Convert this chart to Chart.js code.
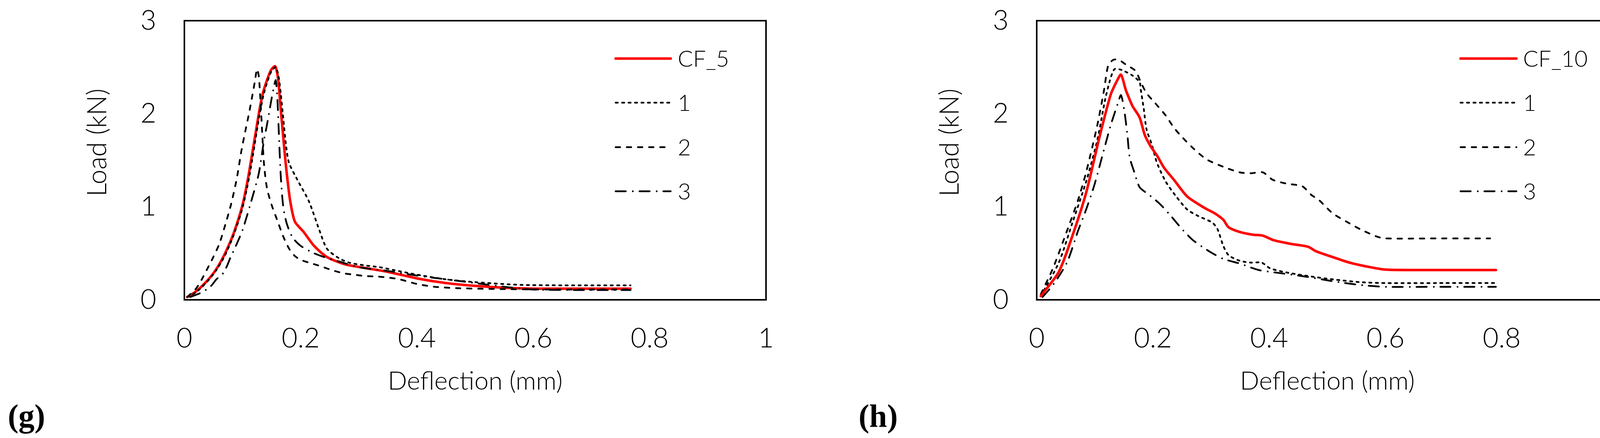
<!DOCTYPE html>
<html>
<head>
<meta charset="utf-8">
<script src="https://cdn.jsdelivr.net/npm/chart.js@4.4.1/dist/chart.umd.min.js"></script>
<style>
  html, body { margin: 0; padding: 0; background: #fff; }
  #wrap { position: relative; width: 4182px; height: 1122px; }
  canvas { position: absolute; top: 0; }
</style>
</head>
<body>
<div id="wrap">
  <canvas id="chartG" width="2091" height="1122" style="left:0"></canvas>
  <canvas id="chartH" width="2091" height="1122" style="left:2091px"></canvas>
</div>
<script>
// --- DATA ---
const X_TICKS = [0, 0.2, 0.4, 0.6, 0.8, 1];
const Y_TICKS = [0, 1, 2, 3];
const X_TITLE = "Deflection (mm)";
const Y_TITLE = "Load (kN)";
const LABELS_G = ["CF_5", "1", "2", "3"];
const LABELS_H = ["CF_10", "1", "2", "3"];

// (g) CF_5 average and specimens 1-3
const gCF5X = [0.005, 0.02, 0.04, 0.055, 0.07, 0.085, 0.1, 0.111, 0.128, 0.135, 0.142, 0.149, 0.156, 0.161, 0.165, 0.169, 0.172, 0.176, 0.182, 0.19, 0.205, 0.223, 0.245, 0.277, 0.313, 0.35, 0.4, 0.45, 0.5, 0.55, 0.6, 0.7, 0.767];
const gCF5Y = [0.03, 0.09, 0.21, 0.33, 0.5, 0.72, 1.02, 1.36, 2.0, 2.22, 2.36, 2.47, 2.51, 2.38, 2.1, 1.82, 1.61, 1.36, 1.06, 0.84, 0.73, 0.58, 0.46, 0.38, 0.34, 0.3, 0.23, 0.18, 0.15, 0.13, 0.12, 0.12, 0.12];
const g1X = [0.005, 0.02, 0.04, 0.055, 0.07, 0.085, 0.1, 0.112, 0.129, 0.136, 0.143, 0.15, 0.157, 0.162, 0.166, 0.17, 0.175, 0.18, 0.196, 0.214, 0.232, 0.245, 0.265, 0.283, 0.31, 0.336, 0.36, 0.4, 0.45, 0.5, 0.58, 0.7, 0.767];
const g1Y = [0.03, 0.08, 0.2, 0.32, 0.48, 0.7, 0.99, 1.34, 1.98, 2.2, 2.35, 2.46, 2.5, 2.4, 2.2, 1.95, 1.65, 1.47, 1.27, 1.06, 0.75, 0.55, 0.45, 0.4, 0.37, 0.35, 0.32, 0.27, 0.22, 0.19, 0.16, 0.155, 0.155];
const g2X = [0.005, 0.02, 0.03, 0.04, 0.049, 0.06, 0.07, 0.08, 0.09, 0.098, 0.105, 0.111, 0.117, 0.121, 0.125, 0.128, 0.131, 0.134, 0.137, 0.142, 0.15, 0.16, 0.17, 0.18, 0.19, 0.2, 0.214, 0.235, 0.253, 0.274, 0.292, 0.31, 0.331, 0.349, 0.37, 0.4, 0.43, 0.47, 0.55, 0.65, 0.767];
const g2Y = [0.03, 0.12, 0.22, 0.34, 0.45, 0.6, 0.8, 1.02, 1.3, 1.6, 1.82, 2.0, 2.2, 2.34, 2.48, 2.4, 2.12, 1.77, 1.45, 1.2, 1.02, 0.85, 0.68, 0.55, 0.47, 0.43, 0.4, 0.36, 0.32, 0.285, 0.27, 0.256, 0.25, 0.24, 0.22, 0.17, 0.14, 0.125, 0.115, 0.11, 0.11];
const g3X = [0.01, 0.03, 0.046, 0.055, 0.066, 0.073, 0.079, 0.09, 0.1, 0.115, 0.128, 0.137, 0.142, 0.149, 0.153, 0.157, 0.16, 0.163, 0.166, 0.17, 0.176, 0.186, 0.2, 0.223, 0.245, 0.267, 0.3, 0.35, 0.4, 0.45, 0.5, 0.55, 0.6, 0.7, 0.767];
const g3Y = [0.03, 0.08, 0.15, 0.22, 0.28, 0.36, 0.45, 0.6, 0.75, 1.06, 1.36, 1.72, 1.88, 2.13, 2.26, 2.36, 2.15, 1.7, 1.3, 1.0, 0.82, 0.67, 0.58, 0.5, 0.45, 0.41, 0.35, 0.31, 0.26, 0.22, 0.18, 0.14, 0.11, 0.105, 0.105];

// (h) CF_10 average and specimens 1-3
const hCF10X = [0.007, 0.038, 0.061, 0.085, 0.108, 0.127, 0.137, 0.145, 0.153, 0.158, 0.165, 0.177, 0.186, 0.196, 0.207, 0.219, 0.236, 0.259, 0.288, 0.306, 0.321, 0.33, 0.349, 0.372, 0.389, 0.408, 0.438, 0.467, 0.481, 0.509, 0.538, 0.566, 0.599, 0.65, 0.72, 0.79];
const hCF10Y = [0.04, 0.3, 0.68, 1.15, 1.75, 2.2, 2.34, 2.42, 2.26, 2.18, 2.08, 1.96, 1.77, 1.65, 1.55, 1.42, 1.29, 1.11, 0.99, 0.93, 0.86, 0.78, 0.73, 0.7, 0.69, 0.64, 0.6, 0.57, 0.52, 0.46, 0.4, 0.36, 0.325, 0.32, 0.32, 0.32];
const h1X = [0.007, 0.038, 0.061, 0.085, 0.104, 0.118, 0.127, 0.134, 0.146, 0.165, 0.177, 0.179, 0.184, 0.189, 0.198, 0.207, 0.222, 0.24, 0.259, 0.278, 0.302, 0.311, 0.321, 0.33, 0.349, 0.368, 0.387, 0.401, 0.425, 0.462, 0.509, 0.556, 0.599, 0.7, 0.79];
const h1Y = [0.04, 0.4, 0.82, 1.27, 1.71, 2.16, 2.38, 2.48, 2.47, 2.41, 2.34, 2.26, 2.06, 1.83, 1.67, 1.47, 1.27, 1.11, 0.97, 0.9, 0.83, 0.76, 0.58, 0.48, 0.42, 0.4, 0.4, 0.34, 0.3, 0.26, 0.22, 0.19, 0.18, 0.18, 0.18];
const h2X = [0.007, 0.028, 0.052, 0.071, 0.085, 0.104, 0.116, 0.123, 0.132, 0.141, 0.153, 0.17, 0.179, 0.189, 0.203, 0.222, 0.236, 0.25, 0.269, 0.292, 0.321, 0.349, 0.368, 0.389, 0.406, 0.429, 0.457, 0.472, 0.486, 0.509, 0.533, 0.556, 0.585, 0.599, 0.7, 0.78];
const h2Y = [0.06, 0.34, 0.74, 1.07, 1.37, 1.87, 2.26, 2.52, 2.58, 2.58, 2.53, 2.46, 2.34, 2.22, 2.12, 1.98, 1.85, 1.75, 1.63, 1.51, 1.43, 1.37, 1.36, 1.37, 1.29, 1.25, 1.22, 1.13, 1.07, 0.93, 0.84, 0.76, 0.68, 0.66, 0.66, 0.66];
const h3X = [0.01, 0.028, 0.052, 0.071, 0.085, 0.099, 0.113, 0.127, 0.139, 0.145, 0.151, 0.156, 0.16, 0.168, 0.177, 0.193, 0.212, 0.231, 0.25, 0.269, 0.297, 0.321, 0.349, 0.382, 0.415, 0.462, 0.509, 0.556, 0.599, 0.7, 0.79];
const h3Y = [0.03, 0.16, 0.4, 0.74, 0.97, 1.23, 1.55, 1.87, 2.1, 2.2, 2.02, 1.77, 1.53, 1.37, 1.21, 1.13, 1.03, 0.9, 0.76, 0.64, 0.52, 0.44, 0.39, 0.32, 0.29, 0.25, 0.2, 0.16, 0.14, 0.14, 0.14];

// --- STYLE ---
const FONT = "Lato, 'Open Sans', sans-serif";
const LINE_STYLES = [
  { color: "#ff0000", width: 6.5, dash: [] },
  { color: "#000000", width: 4.5, dash: [5.5, 11] },
  { color: "#000000", width: 4.5, dash: [11.5, 17] },
  { color: "#000000", width: 4.5, dash: [26, 18, 0.1, 17] },
];

function toPoints(xs, ys) {
  return xs.map((x, i) => ({ x, y: ys[i] }));
}

// box round the plot area
const framePlugin = {
  id: "frame",
  afterDatasetsDraw(chart) {
    const { ctx, chartArea: a } = chart;
    ctx.save();
    ctx.strokeStyle = "#000";
    ctx.lineWidth = 4;
    ctx.strokeRect(a.left, a.top, a.right - a.left, a.bottom - a.top);
    ctx.restore();
  },
};

// legend, y title and panel letter
const panelTextPlugin = {
  id: "panelText",
  afterDraw(chart, args, opts) {
    const { ctx, chartArea: a } = chart;
    ctx.save();
    opts.labels.forEach((label, i) => {
      const st = LINE_STYLES[i];
      const y = opts.rowsY[i];
      ctx.beginPath();
      ctx.strokeStyle = st.color;
      ctx.lineWidth = st.width;
      ctx.lineCap = "round";
      ctx.setLineDash(st.dash);
      ctx.moveTo(opts.lineX1, y);
      ctx.lineTo(opts.lineX2, y);
      ctx.stroke();
      ctx.setLineDash([]);
      ctx.fillStyle = "#000";
      ctx.font = "300 58px " + FONT;
      ctx.textAlign = "left";
      ctx.textBaseline = "alphabetic";
      ctx.fillText(label, opts.textX, y + 21);
    });

    ctx.translate(a.left - 200, 365);
    ctx.rotate(-Math.PI / 2);
    ctx.font = "300 68px " + FONT;
    ctx.textAlign = "center";
    ctx.textBaseline = "alphabetic";
    ctx.fillStyle = "#000";
    ctx.fillText(Y_TITLE, 0, 0);
    ctx.setTransform(1, 0, 0, 1, 0, 0);

    ctx.font = "bold 82px 'Liberation Serif', 'Times New Roman', serif";
    ctx.textAlign = "left";
    ctx.fillText(opts.letter, opts.letterX, 1093);
    ctx.restore();
  },
};

function renderPanel(canvasId, labels, series, cfg) {
  const datasets = series.map((s, i) => ({
    label: labels[i],
    data: toPoints(s[0], s[1]),
    borderColor: LINE_STYLES[i].color,
    borderWidth: LINE_STYLES[i].width,
    borderDash: LINE_STYLES[i].dash,
    borderCapStyle: "round",
    borderJoinStyle: "round",
    pointRadius: 0,
    tension: 0.25,
    fill: false,
    order: i === 0 ? cfg.redOrder : 0,
  }));

  const tickFont = { family: FONT, size: 70, weight: "300" };
  const ctx = document.getElementById(canvasId).getContext("2d");
  return new Chart(ctx, {
    type: "line",
    data: { datasets },
    options: {
      responsive: false,
      animation: false,
      devicePixelRatio: 1,
      layout: { padding: { left: 0, top: 53, right: cfg.padRight, bottom: 0 } },
      plugins: {
        legend: { display: false },
        tooltip: { enabled: false },
        panelText: {
          labels,
          rowsY: [150, 263, 377, 490],
          lineX1: cfg.lineX1,
          lineX2: cfg.lineX2,
          textX: cfg.textX,
          letter: cfg.letter,
          letterX: cfg.letterX,
        },
      },
      scales: {
        x: {
          type: "linear",
          min: 0,
          max: 1,
          afterBuildTicks: (s) => { s.ticks = X_TICKS.map((v) => ({ value: v })); },
          afterFit: (s) => {
            s.height = 354;
            s.paddingLeft = 0;
            s.paddingRight = 0;
          },
          grid: { display: false, drawTicks: false },
          border: { display: false },
          ticks: {
            padding: 57,
            color: "#000",
            font: tickFont,
            maxRotation: 0,
            autoSkip: false,
            callback: (v) => String(+v.toFixed(1)),
          },
          title: {
            display: true,
            text: X_TITLE,
            color: "#000",
            font: { family: FONT, size: 65, weight: "300" },
            padding: { top: 0, bottom: 106 },
          },
        },
        y: {
          type: "linear",
          min: 0,
          max: 3,
          afterBuildTicks: (s) => { s.ticks = Y_TICKS.map((v) => ({ value: v })); },
          afterFit: (s) => {
            s.width = cfg.yWidth;
            s.paddingTop = 0;
            s.paddingBottom = 0;
          },
          grid: { display: false, drawTicks: false },
          border: { display: false },
          ticks: {
            padding: 72,
            color: "#000",
            font: tickFont,
            callback: (v) => String(v),
          },
        },
      },
    },
    plugins: [framePlugin, panelTextPlugin],
  });
}

document.fonts.load("300 70px Lato").finally(() => {
  renderPanel("chartG", LABELS_G,
    [[gCF5X, gCF5Y], [g1X, g1Y], [g2X, g2Y], [g3X, g3Y]],
    { padRight: 130, yWidth: 472, lineX1: 1576, lineX2: 1717, textX: 1735, letter: "(g)", letterX: 20, redOrder: 1 });
  renderPanel("chartH", LABELS_H,
    [[hCF10X, hCF10Y], [h1X, h1Y], [h2X, h2Y], [h3X, h3Y]],
    { padRight: 40, yWidth: 563, lineX1: 1648, lineX2: 1791, textX: 1808, letter: "(h)", letterX: 107, redOrder: 0 });
});
</script>
</body>
</html>
